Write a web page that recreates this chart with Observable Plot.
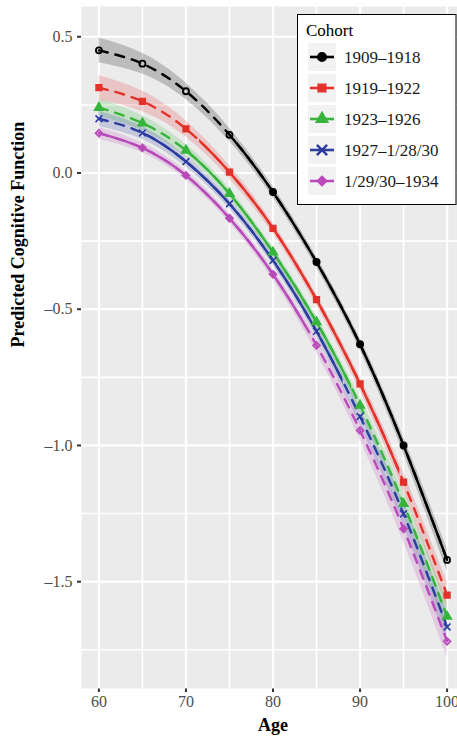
<!DOCTYPE html>
<html>
<head>
<meta charset="utf-8">
<script src="https://cdn.jsdelivr.net/npm/d3@7"></script>
<script src="https://cdn.jsdelivr.net/npm/@observablehq/plot@0.6"></script>
<style>
  html, body { margin: 0; padding: 0; background: #fff; overflow: hidden; width: 457px; height: 738px; }
  #wrap { position: relative; width: 457px; height: 738px; overflow: hidden; }
  #chart svg { max-width: none !important; }
  #legend { position: absolute; left: 297px; top: 14px; }
  svg g[aria-label^="x-axis"] text, svg g[aria-label^="y-axis"] text { fill: #4d4d4d; }
  svg g[aria-label^="x-axis tick"] path, svg g[aria-label^="y-axis tick"] path,
  svg g[aria-label^="x-axis"] line, svg g[aria-label^="y-axis"] line { stroke: #333; stroke-width: 2px; }
</style>
</head>
<body>
<div id="wrap"><div id="chart"></div><div id="legend"></div></div>
<script>
// ---------- data ----------
const ages = [60, 65, 70, 75, 80, 85, 90, 95, 100];
const cohorts = ["1909–1918", "1919–1922", "1923–1926", "1927–1/28/30", "1/29/30–1934"];
const colors = ["#000000", "#e3322b", "#37b43c", "#2b3d9f", "#b94ab9"];
const symbols = ["circle", "square", "triangle", "times", "diamond2"];

// predicted values per cohort
const pred1909 = [0.450, 0.401, 0.300, 0.140, -0.070, -0.327, -0.629, -1.000, -1.420];
const pred1919 = [0.313, 0.263, 0.162, 0.003, -0.203, -0.465, -0.774, -1.135, -1.549];
const pred1923 = [0.240, 0.183, 0.083, -0.076, -0.291, -0.547, -0.853, -1.214, -1.628];
const pred1927 = [0.199, 0.147, 0.042, -0.113, -0.321, -0.581, -0.894, -1.251, -1.666];
const pred1929 = [0.146, 0.092, -0.009, -0.166, -0.372, -0.633, -0.945, -1.306, -1.719];

// half-width of the confidence band per cohort
const band1909 = [0.045, 0.038, 0.030, 0.024, 0.020, 0.020, 0.022, 0.030, 0.042];
const band1919 = [0.045, 0.038, 0.030, 0.024, 0.020, 0.020, 0.025, 0.035, 0.050];
const band1923 = [0.032, 0.027, 0.022, 0.018, 0.018, 0.020, 0.028, 0.040, 0.055];
const band1927 = [0.028, 0.024, 0.020, 0.018, 0.018, 0.022, 0.030, 0.042, 0.058];
const band1929 = [0.022, 0.018, 0.016, 0.016, 0.020, 0.026, 0.035, 0.048, 0.060];

// hollow (open) markers
const hollow1909 = [1, 1, 1, 1, 0, 0, 0, 0, 1];
const hollow1919 = [0, 0, 0, 0, 0, 0, 0, 0, 0];
const hollow1923 = [0, 0, 0, 0, 0, 0, 0, 0, 0];
const hollow1927 = [0, 0, 0, 0, 0, 0, 0, 0, 0];
const hollow1929 = [1, 0, 0, 0, 0, 1, 1, 0, 1];

// observed (solid line) age range per cohort; outside it the line is dashed
const observed1909 = [75, 100];
const observed1919 = [71.5, 94.5];
const observed1923 = [70, 89];
const observed1927 = [65, 88];
const observed1929 = [60, 83.7];

const xTicks = [60, 70, 80, 90, 100];
const xMinor = [65, 75, 85, 95];
const yTicks = [0.5, 0, -0.5, -1, -1.5];
const yMinor = [0.25, -0.25, -0.75, -1.25, -1.75];

// ---------- build table ----------
const preds = [pred1909, pred1919, pred1923, pred1927, pred1929];
const bands = [band1909, band1919, band1923, band1927, band1929];
const hollows = [hollow1909, hollow1919, hollow1923, hollow1927, hollow1929];
const observed = [observed1909, observed1919, observed1923, observed1927, observed1929];

const rows = [];
cohorts.forEach((c, i) => {
  ages.forEach((a, j) => {
    rows.push({cohort: c, age: a, y: preds[i][j], lo: preds[i][j] - bands[i][j], hi: preds[i][j] + bands[i][j], hollow: hollows[i][j] === 1});
  });
});

const FONT = "'Liberation Serif', 'DejaVu Serif', serif";
const fmt = d => (d < 0 ? "–" : "") + Math.abs(d).toFixed(1);

const marks = [
  Plot.frame({fill: "#ebebeb"}),
  Plot.ruleX(xMinor, {stroke: "#fff", strokeWidth: 1.6}),
  Plot.ruleY(yMinor, {stroke: "#fff", strokeWidth: 1.6}),
  Plot.ruleX(xTicks, {stroke: "#fff", strokeWidth: 2.2}),
  Plot.ruleY(yTicks, {stroke: "#fff", strokeWidth: 2.2}),
  Plot.areaY(rows, {x: "age", y1: "lo", y2: "hi", z: "cohort", fill: "cohort", fillOpacity: 0.2, curve: "natural"}),
  Plot.line(rows, {x: "age", y: "y", z: "cohort", stroke: "cohort", strokeWidth: 2.4, strokeDasharray: "9,8", curve: "natural"})
];
cohorts.forEach((c, i) => {
  marks.push(Plot.line(rows.filter(r => r.cohort === c), {x: "age", y: "y", stroke: "cohort", strokeWidth: 2.4, curve: "natural"}));
});
marks.push(
  Plot.dot(rows.filter(r => !r.hollow), {x: "age", y: "y", symbol: "cohort", fill: "cohort", stroke: "cohort", strokeWidth: 1.6, r: 3.2}),
  Plot.dot(rows.filter(r => r.hollow), {x: "age", y: "y", symbol: "cohort", fill: "none", stroke: "cohort", strokeWidth: 1.8, r: 3}),
  Plot.text(["Age"], {frameAnchor: "bottom", dy: 42, fontSize: 18, fontWeight: "bold", fill: "#000", fontFamily: FONT}),
  Plot.text(["Predicted Cognitive Function"], {frameAnchor: "left", dx: -63, rotate: -90, fontSize: 18, fontWeight: "bold", fill: "#000", fontFamily: FONT})
);

const plot = Plot.plot({
  width: 470,
  height: 738,
  marginLeft: 81,
  marginRight: 6,
  marginTop: 6,
  marginBottom: 50,
  style: {fontFamily: FONT, fontSize: "16px", background: "#fff", overflow: "visible", maxWidth: "none"},
  x: {domain: [58, 102], ticks: xTicks, tickSize: 4, tickPadding: 3, label: null, tickFormat: d => String(d)},
  y: {domain: [-1.892, 0.611], ticks: yTicks, tickSize: 4, tickPadding: 5, label: null, tickFormat: fmt},
  color: {domain: cohorts, range: colors},
  symbol: {domain: cohorts, range: symbols},
  marks
});

// clip solid lines to each cohort's observed age range
const xs = plot.scale("x");
const svgEl = plot.tagName.toLowerCase() === "svg" ? plot : plot.querySelector("svg");
svgEl.style.maxWidth = "none";
const svg = d3.select(svgEl);
const defs = svg.insert("defs", ":first-child");
const lineGroups = svgEl.querySelectorAll('g[aria-label="line"]');
cohorts.forEach((c, i) => {
  const x0 = xs.apply(observed[i][0]) - (observed[i][0] <= 60 ? 10 : 0);
  const x1 = xs.apply(observed[i][1]) + (observed[i][1] >= 100 ? 10 : 0);
  defs.append("clipPath").attr("id", "obs-" + i)
    .append("rect").attr("x", x0).attr("y", 0).attr("width", x1 - x0).attr("height", 738);
  const g = lineGroups[i + 1];
  if (g) g.setAttribute("clip-path", `url(#obs-${i})`);
});

document.getElementById("chart").appendChild(plot);

// ---------- legend ----------
const lg = d3.select("#legend").append("svg").attr("width", 160).attr("height", 192)
  .style("font-family", FONT);
lg.append("rect").attr("x", 0.5).attr("y", 0.5).attr("width", 158.5).attr("height", 190)
  .attr("fill", "#fff").attr("stroke", "#000").attr("stroke-width", 1);
lg.append("text").attr("x", 9).attr("y", 22).attr("font-size", 17).attr("fill", "#000").text("Cohort");
const symMap = {circle: d3.symbolCircle, square: d3.symbolSquare, triangle: d3.symbolTriangle, times: d3.symbolTimes, diamond2: d3.symbolDiamond2};
cohorts.forEach((c, i) => {
  const top = 29 + i * 31;
  const g = lg.append("g");
  g.append("rect").attr("x", 11).attr("y", top).attr("width", 28).attr("height", 28).attr("fill", "#f2f2f2");
  const cy = top + 14;
  g.append("line").attr("x1", 13).attr("x2", 37).attr("y1", cy).attr("y2", cy)
    .attr("stroke", colors[i]).attr("stroke-width", 2.6);
  const area = symbols[i] === "times" ? 70 : 60;
  g.append("path").attr("d", d3.symbol(symMap[symbols[i]], area)())
    .attr("transform", `translate(25,${cy})`)
    .attr("fill", symbols[i] === "times" ? "none" : colors[i])
    .attr("stroke", colors[i]).attr("stroke-width", symbols[i] === "times" ? 2.4 : 1.4);
  g.append("text").attr("x", 47).attr("y", cy).attr("dy", "0.35em").attr("font-size", 17)
    .attr("fill", "#1a1a1a").text(c);
});
</script>
</body>
</html>
